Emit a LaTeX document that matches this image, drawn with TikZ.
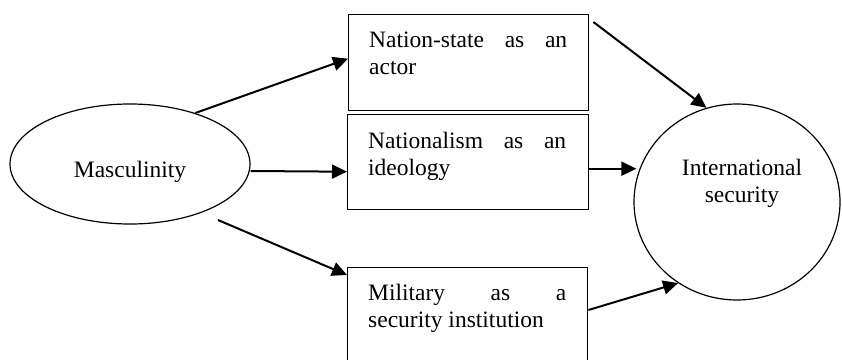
\documentclass[tikz,border=0pt]{standalone}
\usepackage{fontspec}
\setmainfont{Liberation Serif}
\usetikzlibrary{shapes.geometric,arrows.meta,calc}
\begin{document}
\begin{tikzpicture}[x=1pt,y=-1pt,
  boxnode/.style={draw, line width=1.4pt, rectangle, inner sep=0pt, anchor=north west},
  oval/.style={draw, line width=1.2pt, ellipse, inner sep=0pt},
  txt/.style={inner sep=0pt, font=\fontsize{23.5}{27}\selectfont},
  para/.style={txt, text width=198pt, align=justify, anchor=north west},
  arr/.style={line width=2pt, -{Triangle[length=15pt,width=14pt]}}
]
\useasboundingbox (0,0) rectangle (842,359);

% ellipses
\node[oval, minimum width=240pt, minimum height=120pt] (m) at (130,164) {};
\node[txt] (mt) at (130,172) {Masculinity};
\node[oval, minimum width=206pt, minimum height=196pt] (c) at (737,202) {};
\node[txt, align=center] (ct) at (742,183) {International\\security};

% boxes
\node[boxnode, minimum width=240pt, minimum height=96pt] (b1) at (348,14) {};
\node[para] (t1) at (369,32) {Nation-state as an\linebreak actor};
\node[boxnode, minimum width=241pt, minimum height=95pt] (b2) at (347,114) {};
\node[para] (t2) at (368,132) {Nationalism as an\linebreak ideology};
\node[boxnode, minimum width=240pt, minimum height=100pt] (b3) at (347,267) {};
\node[para] (t3) at (368,284) {Military as a\linebreak security institution};

\coordinate (m3) at ([xshift=88pt,yshift=-56pt]m.center);
\coordinate (s5) at ([yshift=-6.5pt]b2.east);

% connectors
\draw[arr] (m.38) -- ([yshift=4pt]b1.west);
\draw[arr] ([yshift=-7pt]m.east) -- ([yshift=-9.5pt]b2.west);
\draw[arr] (m3) -- ([yshift=-8pt]b3.north west);
\draw[arr] ([xshift=4pt,yshift=-8pt]b1.north east) -- (c.108.6);
\draw[arr] (s5) -- ([xshift=3pt]s5 -| c.west);
\draw[arr] ([yshift=-43pt]b3.north east) -- (c.234);
\end{tikzpicture}
\end{document}
